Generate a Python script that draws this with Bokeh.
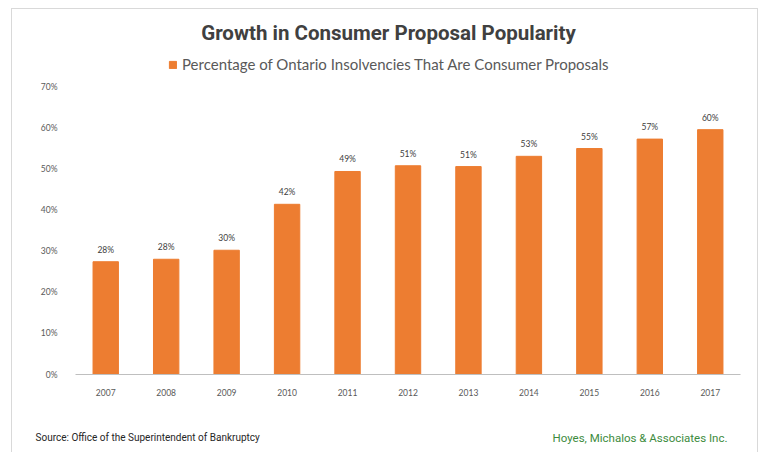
from bokeh.plotting import figure
from bokeh.layouts import column
from bokeh.models import ColumnDataSource, LabelSet, Label, Legend, LegendItem, FixedTicker
from bokeh.core.properties import value
from bokeh.embed import file_html
from bokeh.resources import INLINE

years = ["2007", "2008", "2009", "2010", "2011", "2012", "2013", "2014", "2015", "2016", "2017"]
shares = [27.5, 28.1, 30.3, 41.5, 49.5, 50.9, 50.7, 53.2, 55.1, 57.4, 59.7]
share_labels = ["28%", "28%", "30%", "42%", "49%", "51%", "51%", "53%", "55%", "57%", "60%"]
y_ticks = [0, 10, 20, 30, 40, 50, 60, 70]
y_tick_labels = ["0%", "10%", "20%", "30%", "40%", "50%", "60%", "70%"]

title_text = "Growth in Consumer Proposal Popularity"
series_name = "Percentage of Ontario Insolvencies That Are Consumer Proposals"
source_text = "Source: Office of the Superintendent of Bankruptcy"
credit_text = "Hoyes, Michalos & Associates Inc."

ORANGE = "#ED7D31"
NARROW = "Liberation Sans Narrow, Arial Narrow, Roboto, sans-serif"

src = ColumnDataSource(dict(year=years, share=shares, lab=share_labels))

# frame spans from near canvas top so title/legend live inside it; ticks stop at 70%
p = figure(x_range=years, y_range=(0, 89.0), width=745, height=401,
           output_backend="svg", toolbar_location=None,
           min_border_left=63, min_border_right=17, min_border_top=0, min_border_bottom=36)
p.frame_align = False
p.outline_line_color = None
p.background_fill_color = "white"
p.border_fill_color = "white"
p.grid.grid_line_color = None

r = p.vbar(x="year", top="share", width=0.42, source=src, fill_color=ORANGE, line_color=ORANGE)

p.add_layout(LabelSet(x="year", y="share", text="lab", source=src, text_align="center",
                      text_baseline="bottom", y_offset=7, text_font_size="8.5px",
                      text_color="#404040", text_font=value("Lato")))

yax = p.yaxis[0]
yax.ticker = FixedTicker(ticks=y_ticks)
yax.major_label_overrides = {t: l for t, l in zip(y_ticks, y_tick_labels)}
yax.axis_line_color = None
yax.major_tick_line_color = None
yax.minor_tick_line_color = None
yax.major_label_standoff = 12
yax.major_label_text_font_size = "8.5px"
yax.major_label_text_color = "#595959"
yax.major_label_text_font = "Lato"

xax = p.xaxis[0]
xax.axis_line_color = "#bfbfbf"
xax.major_tick_line_color = None
xax.minor_tick_line_color = None
xax.major_label_standoff = 8
xax.major_label_text_font_size = "8.5px"
xax.major_label_text_color = "#595959"
xax.major_label_text_font = "Lato"

legend = Legend(items=[LegendItem(label=series_name, renderers=[r])],
                location=(93, 301), orientation="horizontal",
                padding=0, margin=0, border_line_color=None, background_fill_alpha=0,
                glyph_width=9, glyph_height=9, label_text_font_size="15px",
                label_text_color="#595959", label_text_font="Lato", label_standoff=5,
                label_height=14)
p.add_layout(legend, "center")

p.add_layout(Label(x=313, y=342, x_units="screen", y_units="screen", text=title_text,
                   text_align="center", text_baseline="middle", text_font_size="20.5px",
                   text_font_style="bold", text_color="#404040", text_font=NARROW))

# footer strip with source and credit
f = figure(x_range=(0, 745), y_range=(0, 42), width=745, height=42,
           output_backend="svg", toolbar_location=None, min_border=0)
f.frame_align = False
f.axis.visible = False
f.grid.grid_line_color = None
f.outline_line_color = None
f.text(x=[23], y=[15], text=[source_text], text_align="left", text_baseline="middle",
       text_font_size="10px", text_color="#262626", text_font=value(NARROW))
f.text(x=[715], y=[15], text=[credit_text], text_align="right", text_baseline="middle",
       text_font_size="11.5px", text_color="#3d8b3d", text_font=value(NARROW))

layout = column(p, f, spacing=0, margin=(8, 0, 0, 11),
                styles={"border-top": "1px solid #d9d9d9",
                        "border-left": "1px solid #d9d9d9",
                        "border-right": "1px solid #d9d9d9"})

open("out.html", "w").write(file_html(layout, INLINE))
